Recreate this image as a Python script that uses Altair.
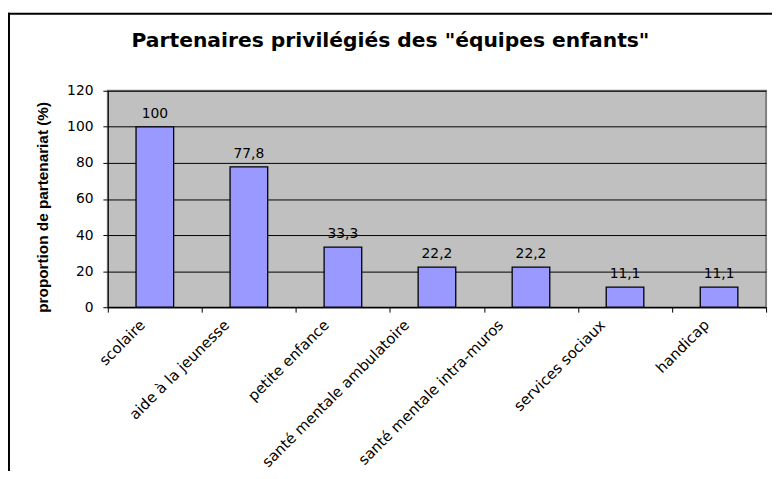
import altair as alt
import pandas as pd

categories = ["scolaire", "aide à la jeunesse", "petite enfance",
              "santé mentale ambulatoire", "santé mentale intra-muros",
              "services sociaux", "handicap"]
values = [100, 77.8, 33.3, 22.2, 22.2, 11.1, 11.1]
y_ticks = [0, 20, 40, 60, 80, 100, 120]
title_text = 'Partenaires privilégiés des "équipes enfants"'
y_title = "proportion de partenariat (%)"


def fmt(v):
    return str(int(v)) if float(v).is_integer() else f"{v:.1f}".replace(".", ",")


df = pd.DataFrame({"cat": categories, "val": values, "lab": [fmt(v) for v in values]})
one = pd.DataFrame({"t": [title_text], "yt": [y_title]})

W, H = 666, 219
FONT = "DejaVu Sans"

label_offset = {
    "condition": [
        {"test": "length(datum.label) > 20", "value": -36},
        {"test": "length(datum.label) > 15", "value": -28},
        {"test": "length(datum.label) > 10", "value": -22},
    ],
    "value": -18,
}

x_enc = alt.X(
    "cat:N", sort=categories,
    scale=alt.Scale(paddingInner=0, paddingOuter=0),
    axis=alt.Axis(title=None, tickBand="extent", labelAngle=-45, labelAlign="right",
                  labelBaseline="top", labelFont=FONT, labelFontSize=15, labelColor="black",
                  labelPadding=5, labelLimit=400, labelOffset=label_offset,
                  tickSize=5, tickColor="black", domainColor="black", domainWidth=1.2,
                  grid=False),
)
y_enc = alt.Y(
    "val:Q", scale=alt.Scale(domain=[0, 120], nice=False),
    axis=alt.Axis(title=None, values=y_ticks, grid=True, gridColor="black", gridWidth=1,
                  labelOverlap=False, tickSize=5, tickColor="black", domainColor="black",
                  labelFont=FONT, labelFontSize=14, labelColor="black", labelPadding=10),
)

base = alt.Chart(df)
bars = base.mark_bar(fill="#9999FF", stroke="black", strokeWidth=1.3,
                     width=alt.RelativeBandSize(0.4)).encode(x=x_enc, y=y_enc)
texts = base.mark_text(baseline="alphabetic", dy=-9, font=FONT, fontSize=14, color="black").encode(
    x=x_enc, y=y_enc, text="lab:N")

top_line = alt.Chart(one).mark_rule(color="black", strokeWidth=2).encode(
    x=alt.value(-102), x2=alt.value(700), y=alt.value(-78))
left_line = alt.Chart(one).mark_rule(color="black", strokeWidth=2).encode(
    x=alt.value(-100), y=alt.value(-79), y2=alt.value(420))
title = alt.Chart(one).mark_text(font=FONT, fontSize=20.5, fontWeight="bold", align="center",
                                 baseline="alphabetic", color="black").encode(
    x=alt.value(286), y=alt.value(-44), text="t:N")
ytitle = alt.Chart(one).mark_text(font="Liberation Sans", fontSize=15.5, fontWeight="bold",
                                  align="center", baseline="middle", angle=270, color="black").encode(
    x=alt.value(-66), y=alt.value(118), text="yt:N")

chart = alt.layer(top_line, left_line, bars, texts, title, ytitle).properties(
    width=W, height=H,
    padding={"left": 101, "top": 81, "right": 6, "bottom": 163},
    autosize="none",
    background="white",
).configure_view(fill="#C0C0C0", stroke="#808080", strokeWidth=2)

chart.save("out.html", embed_options={"renderer": "svg", "actions": False})
